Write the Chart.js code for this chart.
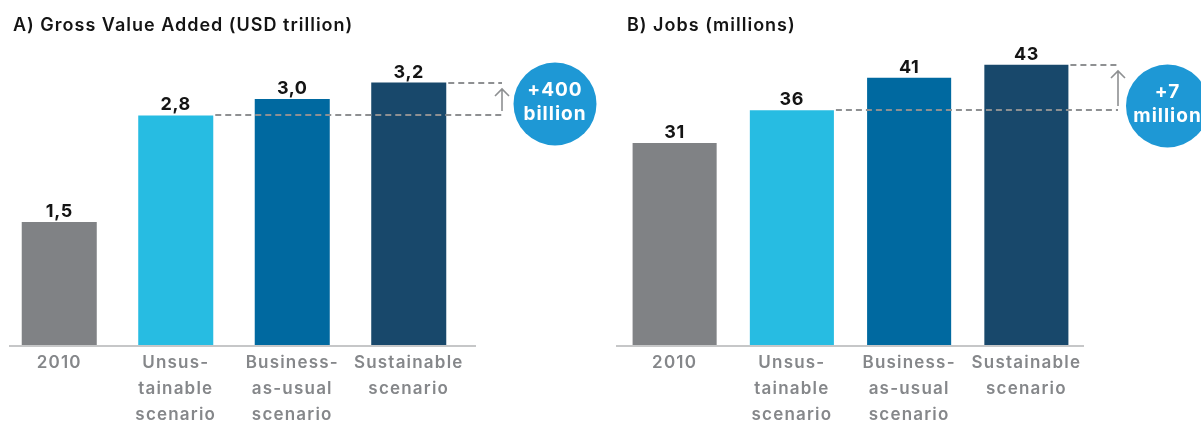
<!DOCTYPE html>
<html>
<head>
<meta charset="utf-8">
<script src="https://cdn.jsdelivr.net/npm/chart.js@4.4.1/dist/chart.umd.min.js"></script>
<style>
  html, body { margin: 0; padding: 0; background: #fff; width: 1201px; height: 421px; overflow: hidden; }
  .panel { position: absolute; top: 0; }
  .title { position: absolute; top: 15px; font-family: Inter, sans-serif; font-weight: 600; font-size: 18px; line-height: 20px; letter-spacing: 1px; color: #141414; white-space: nowrap; }
</style>
</head>
<body>
<div class="panel" style="left:0"><canvas id="gva" width="600" height="440"></canvas></div>
<div class="panel" style="left:600px"><canvas id="jobs" width="601" height="440"></canvas></div>
<div class="title" style="left:13px">A) Gross Value Added (USD trillion)</div>
<div class="title" style="left:627px">B) Jobs (millions)</div>
<script>
let categories = ["2010", ["Unsus-", "tainable", "scenario"], ["Business-", "as-usual", "scenario"], ["Sustainable", "scenario"]]

let gvaValues = [1.5, 2.8, 3.0, 3.2]
let gvaText = ["1,5", "2,8", "3,0", "3,2"]
let gvaBubble = ["+400", "billion"]

let jobsValues = [31, 36, 41, 43]
let jobsText = ["31", "36", "41", "43"]
let jobsBubble = ["+7", "million"]

let barColors = ["#808285", "#27bce2", "#0069a0", "#18486b"]
let guideGray = "#8e9092"

// the tick labels in the original are set quite loose
let spacing = {
  id: "spacing",
  beforeDraw(chart) {
    chart.ctx.letterSpacing = "1.2px"
  }
}

// axis line, numbers over bars, the dashed gap and the round callout
let extras = {
  id: "extras",
  afterDatasetsDraw(chart, args, opts) {
    let ctx = chart.ctx
    let area = chart.chartArea
    let y = chart.scales.y
    let bars = chart.getDatasetMeta(0).data
    let values = chart.data.datasets[0].data
    ctx.save()

    ctx.strokeStyle = "#c6c7c8"
    ctx.lineWidth = 2
    ctx.beginPath()
    ctx.moveTo(area.left + opts.axisFrom, area.bottom + 1)
    ctx.lineTo(area.right + opts.axisTo, area.bottom + 1)
    ctx.stroke()

    ctx.fillStyle = "#141414"
    ctx.font = "700 18px Inter"
    ctx.letterSpacing = "0.6px"
    ctx.textAlign = "center"
    ctx.textBaseline = "alphabetic"
    bars.forEach((bar, i) => ctx.fillText(opts.texts[i], bar.x, bar.y - 5))

    let low = Math.round(y.getPixelForValue(values[1]))
    let high = Math.round(y.getPixelForValue(values[3]))
    let endX = area.right + opts.guideEnd

    ctx.strokeStyle = guideGray
    ctx.lineWidth = 2
    ctx.setLineDash([6, 4])
    ctx.beginPath()
    ctx.moveTo(bars[1].x + bars[1].width / 2 + 2, low)
    ctx.lineTo(endX, low)
    ctx.moveTo(bars[3].x + bars[3].width / 2 + 2, high)
    ctx.lineTo(endX, high)
    ctx.stroke()

    ctx.setLineDash([])
    ctx.lineWidth = 1.6
    ctx.beginPath()
    ctx.moveTo(endX, low - 4)
    ctx.lineTo(endX, high + 6)
    ctx.moveTo(endX - 7, high + 13)
    ctx.lineTo(endX, high + 6)
    ctx.lineTo(endX + 7, high + 13)
    ctx.stroke()

    let cx = area.right + opts.bubbleDx
    let cy = opts.bubbleY
    ctx.fillStyle = "#1e98d5"
    ctx.beginPath()
    ctx.arc(cx, cy, 41.5, 0, Math.PI * 2)
    ctx.fill()
    ctx.fillStyle = "#ffffff"
    ctx.font = "700 19px Inter"
    ctx.letterSpacing = "1px"
    ctx.fillText(opts.bubble[0], cx, cy - 8)
    ctx.fillText(opts.bubble[1], cx, cy + 16)

    ctx.restore()
  }
}

function makeChart(id, values, yMax, barPct, pad, extraOpts) {
  return new Chart(document.getElementById(id), {
    type: "bar",
    data: {
      labels: categories,
      datasets: [{
        data: values,
        backgroundColor: barColors,
        barPercentage: barPct,
        categoryPercentage: 1
      }]
    },
    options: {
      responsive: false,
      animation: false,
      layout: { padding: pad },
      plugins: {
        legend: { display: false },
        tooltip: { enabled: false },
        extras: extraOpts
      },
      scales: {
        x: {
          grid: { display: false, drawTicks: false },
          border: { display: false },
          ticks: {
            color: "#85878a",
            font: { family: "Inter", size: 17, weight: "600", lineHeight: "26px" },
            padding: 5,
            maxRotation: 0,
            autoSkip: false
          }
        },
        y: { display: false, min: 0, max: yMax }
      }
    },
    plugins: [spacing, extras]
  })
}

makeChart("gva", gvaValues, 4, 0.644, { left: 1, right: 133, top: 17, bottom: 7 }, {
  texts: gvaText, bubble: gvaBubble, axisFrom: 8, axisTo: 9, guideEnd: 35, bubbleDx: 88, bubbleY: 104
})

makeChart("jobs", jobsValues, 50, 0.717, { left: 16, right: 116, top: 19, bottom: 7 }, {
  texts: jobsText, bubble: jobsBubble, axisFrom: 0, axisTo: -1, guideEnd: 33, bubbleDx: 82.5, bubbleY: 106
})
</script>
</body>
</html>
